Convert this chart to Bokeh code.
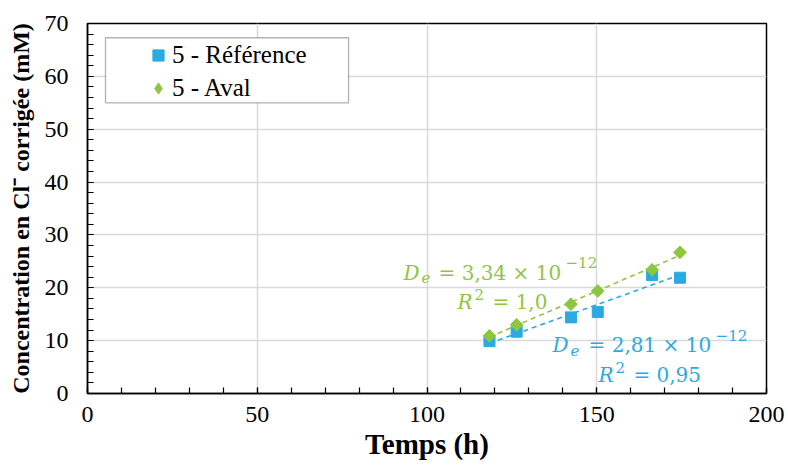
import numpy as np
from bokeh.plotting import figure
from bokeh.models import (Legend, LegendItem, Label, SingleIntervalTicker, Range1d, BoxAnnotation)
from bokeh.embed import file_html
from bokeh.resources import INLINE

# ---- data ----
time_ref = [118.4, 126.4, 142.4, 150.3, 166.3, 174.5]
conc_ref = [9.9, 11.7, 14.4, 15.4, 22.4, 21.9]
time_aval = [118.4, 126.4, 142.4, 150.3, 166.3, 174.5]
conc_aval = [10.9, 13.0, 16.9, 19.4, 23.4, 26.7]
series_names = ["5 - Référence", "5 - Aval"]
x_title = "Temps (h)"
y_title = "Concentration en Cl\u207b corrigée (mM)"
eq_ref = ["D", "e", "= 2,81 \u00d7 10", "\u221212", "R", "2", "= 0,95"]
eq_aval = ["D", "e", "= 3,34 \u00d7 10", "\u221212", "R", "2", "= 1,0"]

BLUE = "#29ABE2"
GREEN = "#8DC63F"
FONT = "Liberation Serif"
MATH_FONT = "DejaVu Serif"

p = figure(width=786, height=472, output_backend="svg", toolbar_location=None,
           x_range=Range1d(0, 200), y_range=Range1d(0, 70),
           min_border_left=87, min_border_right=20, min_border_top=23, min_border_bottom=79)
p.outline_line_color = "black"
p.outline_line_width = 1.5
p.background_fill_color = "white"
p.border_fill_color = "white"

p.xaxis.ticker = SingleIntervalTicker(interval=50, num_minor_ticks=5)
p.yaxis.ticker = SingleIntervalTicker(interval=10, num_minor_ticks=5)
for ax in (p.xaxis[0], p.yaxis[0]):
    ax.axis_line_color = "black"
    ax.axis_line_width = 1.5
    ax.major_tick_in = 6
    ax.major_tick_out = 0
    ax.minor_tick_in = 6
    ax.minor_tick_out = 0
    ax.major_tick_line_color = "black"
    ax.minor_tick_line_color = "black"
    ax.major_tick_line_width = 1.2
    ax.minor_tick_line_width = 1.2
    ax.major_label_text_font = FONT
    ax.major_label_text_font_size = "24px"
    ax.major_label_text_color = "black"
    ax.axis_label_text_font = FONT
    ax.axis_label_text_font_style = "bold"
    ax.axis_label_text_color = "black"
p.xaxis.axis_label = x_title
p.yaxis.axis_label = y_title
p.xaxis.axis_label_text_font_size = "29px"
p.yaxis.axis_label_text_font_size = "24px"
p.xaxis.major_label_standoff = 13
p.yaxis.major_label_standoff = 19
p.xaxis.axis_label_standoff = 3
p.yaxis.axis_label_standoff = 8

p.xgrid.grid_line_color = "#d9d9d9"
p.ygrid.grid_line_color = "#d9d9d9"
p.xgrid.grid_line_width = 1.5
p.ygrid.grid_line_width = 1.5

# trend lines (linear regression of each series)
for tx, cy, col in ((time_ref, conc_ref, BLUE), (time_aval, conc_aval, GREEN)):
    a, b = np.polyfit(tx, cy, 1)
    xs = [min(tx), max(tx)]
    p.line(xs, [a * v + b for v in xs], line_color=col, line_width=1.6, line_dash="5 4")

r_ref = p.scatter(time_ref, conc_ref, marker="square", size=11, fill_color=BLUE, line_color=BLUE)
r_aval = p.scatter(time_aval, conc_aval, marker="square", size=9, angle=np.pi / 4,
                   fill_color=GREEN, line_color=GREEN)
# legend key for the Aval series (diamond shape; legend keys ignore marker angle)
r_aval_key = p.scatter(time_aval, conc_aval, marker="diamond", size=12,
                       fill_color=GREEN, line_color=GREEN, visible=False)

# legend frame
p.add_layout(BoxAnnotation(left=5.3, right=76.9, bottom=55.0, top=67.3,
                           fill_color="white", fill_alpha=1.0,
                           line_color="black", line_width=1.3, level="annotation"))

legend = Legend(items=[LegendItem(label=series_names[0], renderers=[r_ref]),
                       LegendItem(label=series_names[1], renderers=[r_aval_key])],
                location=(57, 291), orientation="vertical")
legend.label_text_font = FONT
legend.label_text_font_size = "25px"
legend.label_text_color = "black"
legend.border_line_alpha = 0
legend.background_fill_alpha = 0
legend.padding = 0
legend.margin = 0
legend.spacing = 5
legend.glyph_height = 28
legend.label_height = 28
legend.glyph_width = 28
legend.label_standoff = 0
p.add_layout(legend)

# equation annotations
def add_eq(parts, col, pos):
    styles = ["italic", "italic", "normal", "normal", "italic", "normal", "normal"]
    sizes = ["20px", "15px", "20px", "15px", "20px", "15px", "20px"]
    for txt, st, sz, (x, y) in zip(parts, styles, sizes, pos):
        p.add_layout(Label(x=x, y=y, text=txt, text_color=col, text_font=MATH_FONT,
                           text_font_style=st, text_font_size=sz,
                           text_align="left", text_baseline="alphabetic"))

add_eq(eq_aval, GREEN, [(93.1, 22.76), (98.4, 21.87), (103.4, 22.76), (140.8, 24.71),
                        (109.0, 17.33), (114.0, 18.65), (119.3, 17.33)])
add_eq(eq_ref, BLUE, [(137.0, 9.25), (142.3, 8.06), (147.6, 9.25), (185.0, 10.90),
                      (150.5, 3.58), (155.5, 4.84), (160.8, 3.58)])

open("out.html", "w").write(file_html(p, INLINE))
